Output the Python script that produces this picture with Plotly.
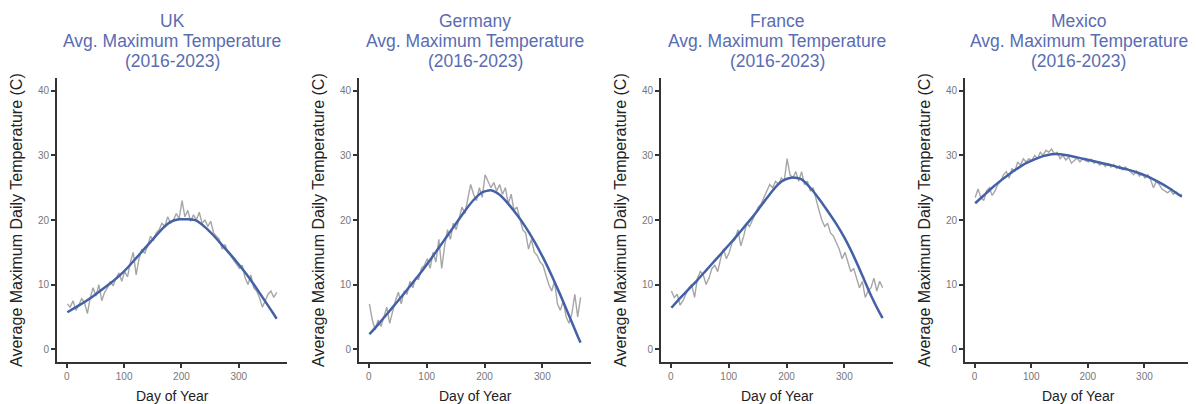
import plotly.graph_objects as go

# Page is 1196x404; the HTML body has an 8px margin, so the figure is sized to fit inside it
PAGE_W, PAGE_H = 1196, 404
OFF = 8
W, H = PAGE_W - OFF, PAGE_H - OFF

countries = ["UK", "Germany", "France", "Mexico"]

# Daily-average gray series, sampled every 5 days (day 1 .. 366)
days = list(range(1, 367, 5))

uk_avg = [7.0, 6.5, 7.5, 6.0, 6.8, 7.8, 7.2, 5.5, 8.0, 9.5,
          8.2, 10.0, 7.5, 8.8, 9.5, 10.5, 9.8, 11.0, 11.8, 10.5,
          12.0, 11.2, 13.5, 15.0, 11.5, 14.0, 15.5, 14.8, 16.0, 17.5,
          16.8, 18.0, 18.5, 19.5, 19.0, 20.5, 19.5, 20.0, 21.0, 20.2,
          23.0, 20.5, 21.5, 19.8, 20.8, 20.0, 21.2, 19.5, 20.0, 19.0,
          19.8, 18.0, 17.5, 17.0, 15.5, 16.2, 15.0, 14.5, 13.8, 13.2,
          12.5, 13.0, 11.0, 10.0, 11.5, 9.5, 9.0, 8.0, 6.5, 7.5,
          8.5, 9.0, 8.0, 8.8]

germany_avg = [7.0, 4.5, 3.0, 4.5, 3.5, 5.0, 6.5, 4.0, 6.0, 7.5,
               8.8, 7.0, 9.0, 8.5, 10.5, 9.5, 11.0, 10.8, 12.5, 13.0,
               14.0, 12.5, 15.0, 13.5, 17.0, 12.5, 16.0, 18.5, 17.0, 19.5,
               18.5, 20.5, 22.0, 21.0, 23.5, 25.5, 24.0, 23.0, 25.0, 23.5,
               27.0, 26.0, 25.0, 25.8, 24.5, 25.5, 24.0, 25.0, 22.5, 24.0,
               21.5, 22.0, 20.0, 18.5, 18.0, 15.5, 17.0, 15.0, 14.5, 13.5,
               13.0, 11.5, 10.0, 9.0, 10.5, 7.0, 6.0, 7.5, 5.0, 4.0,
               5.5, 8.5, 5.0, 8.0]

france_avg = [9.0, 8.0, 8.5, 6.8, 7.5, 8.5, 9.5, 10.0, 8.0, 11.0,
              12.0, 11.5, 10.0, 11.0, 12.5, 13.0, 12.0, 14.0, 15.5, 14.0,
              15.0, 16.5, 17.0, 18.5, 16.0, 17.5, 19.5, 19.0, 20.0, 21.0,
              22.0, 22.5, 23.5, 24.5, 25.5, 25.0, 26.0, 25.5, 26.5, 26.0,
              29.5, 27.0, 26.5, 27.5, 26.0, 27.5, 25.5, 26.0, 24.5, 25.0,
              23.0, 21.5, 20.0, 19.0, 19.5, 18.0, 17.5, 16.5, 15.5, 14.0,
              15.0, 13.5, 12.0, 12.5, 11.0, 9.5, 10.5, 8.0, 9.0, 9.5,
              11.0, 9.0, 10.5, 9.5]

mexico_avg = [23.5, 24.8, 23.5, 23.0, 24.5, 25.0, 23.8, 24.5, 25.5, 26.0,
              27.0, 27.5, 26.5, 28.0, 27.5, 29.0, 28.5, 29.5, 29.0, 29.5,
              29.2, 30.0, 29.5, 30.5, 30.0, 30.8, 30.5, 31.0, 30.2, 30.5,
              29.5, 30.0, 29.3, 29.8, 28.8, 29.2, 29.6, 29.0, 29.5, 29.2,
              29.0, 29.4, 28.8, 29.0, 28.5, 28.8, 28.3, 28.7, 28.2, 28.6,
              28.0, 28.4, 27.8, 28.2, 27.8, 27.4, 27.0, 27.6, 26.8, 27.2,
              26.5, 27.0, 26.2, 25.0, 26.0, 25.5, 24.8, 24.5, 24.2, 24.6,
              24.0, 24.3, 23.8, 24.0]

# Smoothed trend (blue), sampled every 15 days plus day 366
smooth_days = list(range(1, 362, 15)) + [366]

uk_smooth = [5.7, 6.5, 7.3, 8.2, 9.2, 10.2, 11.3, 12.6, 14.1, 15.6, 17.1, 18.6, 19.7,
             20.1, 20.1, 19.9, 18.9, 17.6, 16.1, 14.6, 13.0, 11.3, 9.4, 7.4, 5.4, 4.7]
germany_smooth = [2.3, 3.8, 5.4, 7.0, 8.6, 10.3, 12.0, 13.8, 15.7, 17.6, 19.5, 21.4, 23.1,
                  24.3, 24.6, 23.9, 22.5, 20.8, 18.9, 16.7, 14.2, 11.4, 8.4, 5.2, 2.0, 1.0]
france_smooth = [6.4, 7.9, 9.3, 10.7, 12.2, 13.7, 15.2, 16.7, 18.3, 19.9, 21.6, 23.4, 25.1,
                 26.2, 26.6, 26.3, 25.0, 23.3, 21.4, 19.4, 17.1, 14.4, 11.4, 8.3, 5.6, 4.8]
mexico_smooth = [22.6, 23.8, 25.0, 26.1, 27.1, 28.0, 28.8, 29.4, 29.9, 30.2, 30.2, 30.0, 29.7,
                 29.4, 29.1, 28.8, 28.5, 28.1, 27.8, 27.4, 26.9, 26.3, 25.6, 24.8, 23.9, 23.6]

avg_series = [uk_avg, germany_avg, france_avg, mexico_avg]
smooth_series = [uk_smooth, germany_smooth, france_smooth, mexico_smooth]

x_ticks = [0, 100, 200, 300]
y_ticks = [0, 10, 20, 30, 40]
title_lines = ["{}", "Avg. Maximum Temperature", "(2016-2023)"]

# panel boxes in page pixels
panels_px = [(57, 287), (359, 591), (661, 893), (965, 1192)]
top_px, bottom_px = 78, 362


def fx(px):
    return (px - OFF) / W


def fy(py):
    return 1 - (py - OFF) / H


TITLE_COLOR = "#5A6CB2"
LINE_BLUE = "#4461A8"
AXIS_COLOR = "#333333"
TICK_LABEL = "#777777"
FONT = "Liberation Sans, Arial, sans-serif"

fig = go.Figure()
annotations = []
layout_axes = {}

for i, (name, avg, sm) in enumerate(zip(countries, avg_series, smooth_series)):
    k = "" if i == 0 else str(i + 1)
    xa, ya = "x" + k, "y" + k
    fig.add_trace(go.Scatter(x=days, y=avg, mode="lines",
                             line=dict(color="rgba(150,150,150,0.85)", width=1.4),
                             xaxis=xa, yaxis=ya, showlegend=False, hoverinfo="skip"))
    fig.add_trace(go.Scatter(x=smooth_days, y=sm, mode="lines",
                             line=dict(color=LINE_BLUE, width=2.5, shape="spline", smoothing=0.6),
                             xaxis=xa, yaxis=ya, showlegend=False, hoverinfo="skip"))
    l, r = panels_px[i]
    common = dict(showgrid=False, zeroline=False, showline=True, linecolor=AXIS_COLOR,
                  linewidth=2, ticks="outside", tickcolor=AXIS_COLOR, ticklen=4, tickwidth=2,
                  tickfont=dict(family=FONT, size=10, color=TICK_LABEL), fixedrange=True)
    layout_axes["xaxis" + k] = dict(domain=[fx(l), fx(r)], anchor=ya, range=[-17, 384],
                                    tickvals=x_ticks, **common)
    layout_axes["yaxis" + k] = dict(domain=[fy(bottom_px), fy(top_px)], anchor=xa, range=[-2, 42],
                                    tickvals=y_ticks, **common)
    cx = fx((l + r) / 2)
    for j, (tl, ty) in enumerate(zip(title_lines, [20.7, 40.7, 60.7])):
        annotations.append(dict(text=tl.format(name), x=cx, y=fy(ty), xref="paper", yref="paper",
                                xanchor="center", yanchor="middle", showarrow=False,
                                font=dict(family=FONT, size=17.5, color=TITLE_COLOR)))
    annotations.append(dict(text="Day of Year", x=cx, y=fy(396), xref="paper", yref="paper",
                            xanchor="center", yanchor="middle", showarrow=False,
                            font=dict(family=FONT, size=14, color="#222222")))
    annotations.append(dict(text="Average Maximum Daily Temperature (C)",
                            x=fx(l - 41), y=fy((top_px + bottom_px) / 2),
                            xref="paper", yref="paper", xanchor="center", yanchor="middle",
                            textangle=-90, showarrow=False,
                            font=dict(family=FONT, size=16, color="#222222")))

fig.update_layout(width=W, height=H, margin=dict(l=0, r=0, t=0, b=0),
                  paper_bgcolor="white", plot_bgcolor="white",
                  annotations=annotations, **layout_axes)

fig.write_html("out.html")
